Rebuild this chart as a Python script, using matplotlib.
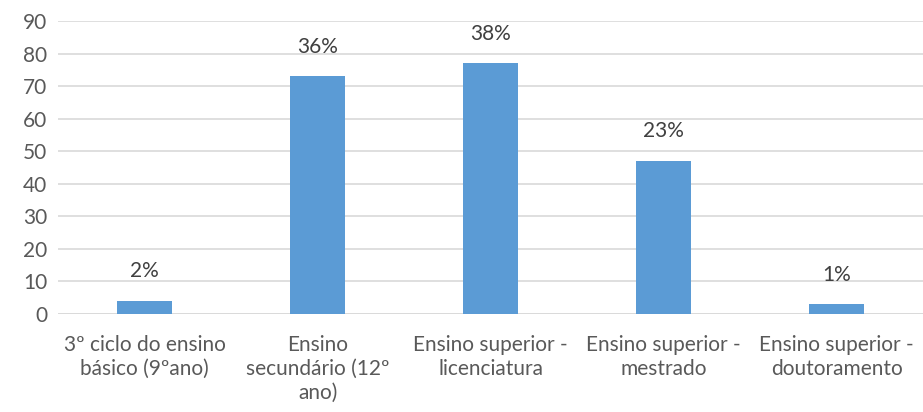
import matplotlib
matplotlib.use("Agg")
import matplotlib.pyplot as plt

categories = [
    "3º ciclo do ensino\nbásico (9ºano)",
    "Ensino\nsecundário (12º\nano)",
    "Ensino superior -\nlicenciatura",
    "Ensino superior -\nmestrado",
    "Ensino superior -\ndoutoramento",
]
counts = [4, 73, 77, 47, 3]
pct_labels = ["2%", "36%", "38%", "23%", "1%"]
yticks = list(range(0, 91, 10))

BAR = "#5B9BD5"
TXT = "#595959"
GRID = "#D9D9D9"

plt.rcParams["font.family"] = ["Lato", "DejaVu Sans"]

fig = plt.figure(figsize=(9.23, 4.12), dpi=100)
ax = fig.add_axes([0.063, 0.238, 0.937, 0.711])

x = range(len(categories))
ax.bar(x, counts, width=0.32, color=BAR, zorder=3)
for xi, v, lab in zip(x, counts, pct_labels):
    ax.text(xi, v + 6, lab, ha="center", va="bottom", fontsize=15, color="#404040")

ax.set_xlim(-0.5, len(categories) - 0.5)
ax.set_ylim(0, 90)
ax.set_yticks(yticks)
ax.yaxis.grid(True, color=GRID, linewidth=1.2, zorder=0)
ax.set_xticks(list(x))
ax.set_xticklabels(categories, fontsize=15, color=TXT, linespacing=1.25)
ax.tick_params(axis="y", labelsize=15, labelcolor=TXT, length=0, pad=8)
ax.tick_params(axis="x", length=0, pad=15)
for s in ax.spines.values():
    s.set_visible(False)
ax.axhline(0, color=GRID, linewidth=1.2, zorder=2)

fig.savefig("out.png", dpi=100)
